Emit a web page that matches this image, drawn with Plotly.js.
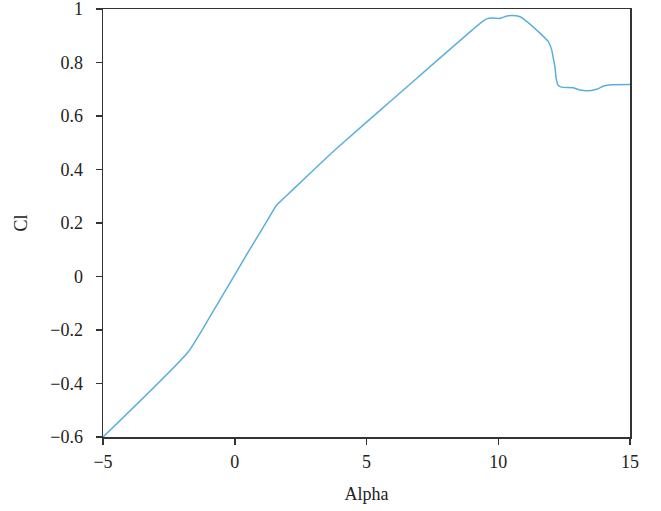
<!DOCTYPE html>
<html>
<head>
<meta charset="utf-8">
<script src="https://cdn.plot.ly/plotly-3.0.1.min.js"></script>
<style>
  html, body { margin: 0; padding: 0; background: #fff; }
  #chart { width: 661px; height: 511px; }
</style>
</head>
<body>
<div id="chart"></div>
<script>
// Lift coefficient vs. angle of attack
const alpha = [-5, -1.77, -0.94, 0, 0.5, 1.02, 1.3, 1.59, 1.75, 2.86, 3.8, 6.4, 9.31, 9.56, 9.8, 10.07, 10.3, 10.51, 10.83, 11.1, 11.46, 11.9, 12.02, 12.1, 12.15, 12.2, 12.28, 12.4, 12.85, 13.1, 13.35, 13.73, 14.0, 14.3, 15];
const cl    = [-0.6, -0.282, -0.15, 0.006, 0.09, 0.174, 0.22, 0.267, 0.282, 0.386, 0.473, 0.697, 0.946, 0.963, 0.966, 0.965, 0.973, 0.976, 0.971, 0.952, 0.921, 0.878, 0.85, 0.81, 0.784, 0.74, 0.714, 0.708, 0.706, 0.697, 0.694, 0.70, 0.712, 0.717, 0.718];

const xTicks = [-5, 0, 5, 10, 15];
const yTicks = [-0.6, -0.4, -0.2, 0, 0.2, 0.4, 0.6, 0.8, 1];

const tickFont = { family: '"Liberation Serif", "DejaVu Serif", serif', size: 18, color: '#222' };
const titleFont = { family: '"Liberation Serif", "DejaVu Serif", serif', size: 18, color: '#222' };

const axisCommon = {
  showgrid: false,
  zeroline: false,
  showline: true,
  linecolor: '#333',
  linewidth: 1.5,
  mirror: true,
  ticks: 'outside',
  ticklen: 6,
  tickwidth: 1.5,
  tickcolor: '#333',
  tickfont: tickFont,
  ticklabeloverflow: 'allow'
};

Plotly.newPlot('chart', [{
  x: alpha,
  y: cl,
  type: 'scatter',
  mode: 'lines',
  line: { color: '#5AB0DB', width: 1.5, shape: 'spline', smoothing: 0.5 },
  hoverinfo: 'skip'
}], {
  width: 661,
  height: 511,
  margin: { l: 103, r: 31, t: 9, b: 74 },
  paper_bgcolor: '#fff',
  plot_bgcolor: '#fff',
  showlegend: false,
  font: tickFont,
  xaxis: Object.assign({}, axisCommon, {
    range: [-5, 15],
    tickvals: xTicks,
    ticklabelstandoff: 2,
    title: { text: 'Alpha', font: titleFont, standoff: 16 }
  }),
  yaxis: Object.assign({}, axisCommon, {
    range: [-0.6, 1],
    tickvals: yTicks,
    ticktext: yTicks.map(v => v === 0 || v === 1 ? String(v) : v.toFixed(1).replace('-', '\u2212')),
    ticklabelstandoff: 9,
    title: { text: 'Cl', font: titleFont, standoff: 18 }
  })
}, { displayModeBar: false, staticPlot: true });
</script>
</body>
</html>
